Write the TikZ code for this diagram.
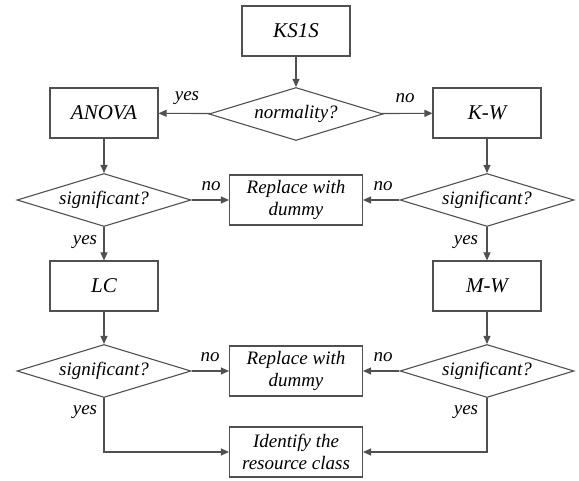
\documentclass[tikz,border=0pt]{standalone}
\usepackage{fontspec}
\setmainfont{Liberation Serif}
\usetikzlibrary{shapes.geometric,arrows.meta}
\definecolor{linegray}{HTML}{505050}
\begin{document}
\begin{tikzpicture}[x=1pt,y=-1pt,
  every node/.style={font=\fontsize{19}{22}\selectfont\itshape},
  box/.style={draw=linegray,line width=1.1pt,minimum width=108pt,minimum height=50pt,inner sep=0pt,align=center},
  title/.style={box,font=\fontsize{21}{24}\selectfont\itshape},
  wbox/.style={box,minimum width=133pt},
  dia/.style={draw=linegray,line width=1.1pt,shape=diamond,aspect=3.3,minimum width=174pt,minimum height=53pt,inner sep=0pt},
  lbl/.style={font=\fontsize{19}{22}\selectfont\itshape,inner sep=0pt},
  arr/.style={draw=linegray,line width=1.1pt,-{Triangle[length=8pt,width=7pt]}}]
\useasboundingbox (0,0) rectangle (579,481);
\node[title] (ks) at (296,31) {KS1S};
\node[dia] (norm) at (296,114) {normality?};
\node[title] (anova) at (104,113) {ANOVA};
\node[title] (kw) at (487,113) {K-W};
\node[dia] (s1) at (104,200) {significant?};
\node[wbox] (r1) at (296,200) {Replace with\\dummy};
\node[dia] (s2) at (487,200) {significant?};
\node[title] (lc) at (104,286) {LC};
\node[title] (mw) at (487,286) {M-W};
\node[dia] (s3) at (104,371) {significant?};
\node[wbox] (r2) at (296,371) {Replace with\\dummy};
\node[dia] (s4) at (487,371) {significant?};
\node[wbox] (id) at (296,452) {Identify the\\resource class};
\draw[arr] (ks) -- (norm);
\draw[arr] (norm) -- (anova);
\draw[arr] (norm) -- (kw);
\draw[arr] (anova) -- (s1);
\draw[arr] (kw) -- (s2);
\draw[arr] (s1) -- (r1);
\draw[arr] (s2) -- (r1);
\draw[arr] (s1) -- (lc);
\draw[arr] (s2) -- (mw);
\draw[arr] (lc) -- (s3);
\draw[arr] (mw) -- (s4);
\draw[arr] (s3) -- (r2);
\draw[arr] (s4) -- (r2);
\draw[arr] (s3.south) |- (id.west);
\draw[arr] (s4.south) |- (id.east);
\node[lbl] (y0) at (187,98) {yes};
\node[lbl] (n0) at (405,98) {no};
\node[lbl] (n1) at (211,186) {no};
\node[lbl] (n2) at (383,186) {no};
\node[lbl] (y1) at (85,242) {yes};
\node[lbl] (y2) at (466,242) {yes};
\node[lbl] (n3) at (210,357) {no};
\node[lbl] (n4) at (383,357) {no};
\node[lbl] (y3) at (85,412) {yes};
\node[lbl] (y4) at (466,412) {yes};
\end{tikzpicture}
\end{document}
